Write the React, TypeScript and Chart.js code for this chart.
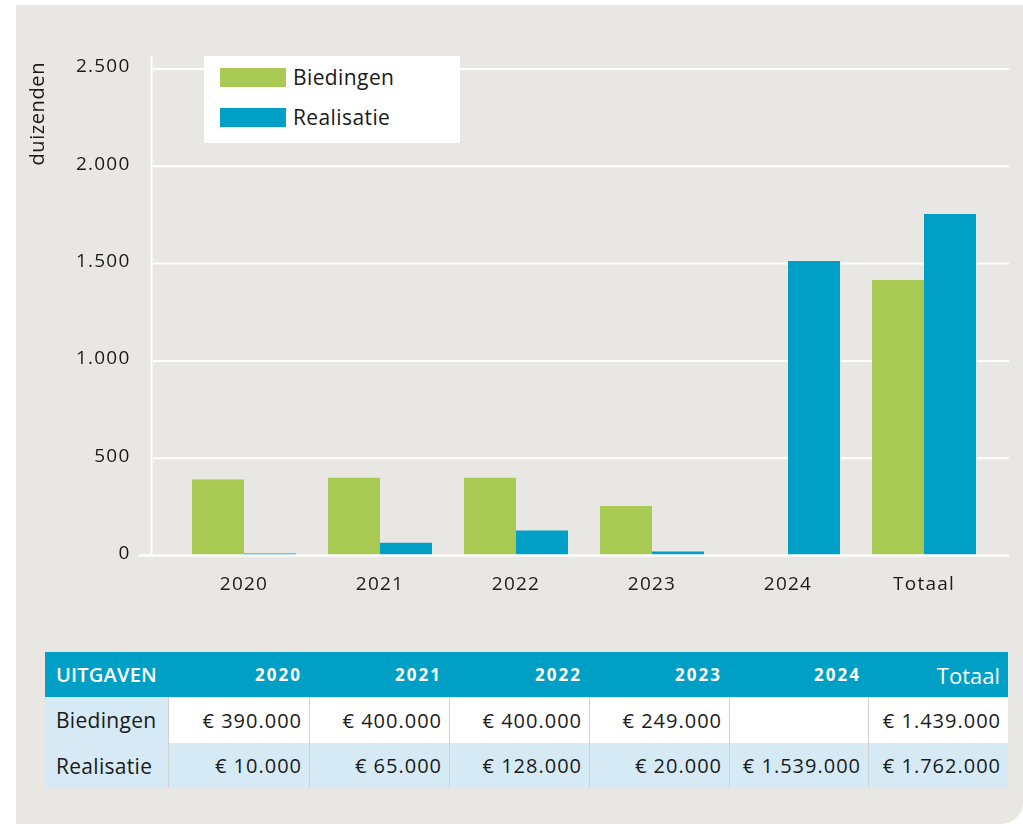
import React, { useEffect, useRef } from "react";
import { Chart, registerables } from "chart.js";

Chart.register(...registerables);

const categories = ["2020", "2021", "2022", "2023", "2024", "Totaal"];
const seriesNames = ["Biedingen", "Realisatie"];
const biedingenValues = [390, 400, 400, 255, null, 1416];
const realisatieValues = [10, 65, 128, 20, 1513, 1755];
const yTickValues = [0, 500, 1000, 1500, 2000, 2500];
const yAxisTitle = "duizenden";

const tableTitle = "UITGAVEN";
const tableBiedingen = ["€ 390.000", "€ 400.000", "€ 400.000", "€ 249.000", "", "€ 1.439.000"];
const tableRealisatie = ["€ 10.000", "€ 65.000", "€ 128.000", "€ 20.000", "€ 1.539.000", "€ 1.762.000"];

const GREEN = "#a8c952";
const BLUE = "#009fc6";
const PANEL = "#e8e7e3";
const TEXT = "#1a1a1a";
const LIGHTBLUE = "#d5eaf5";
const FONT = "'Open Sans', 'DejaVu Sans', sans-serif";

function fmt(v: number): string {
  return String(v).replace(/\B(?=(\d{3})+(?!\d))/g, ".");
}

const gridPlugin = {
  id: "customGrid",
  beforeUpdate(chart: any) {
    chart.ctx.letterSpacing = "1.2px";
  },
  beforeDraw(chart: any) {
    chart.ctx.letterSpacing = "1.2px";
  },
  beforeDatasetsDraw(chart: any) {
    const { ctx, chartArea, scales } = chart;
    const y = scales.y;
    ctx.save();
    ctx.strokeStyle = "#ffffff";
    ctx.lineWidth = 2;
    ctx.beginPath();
    ctx.moveTo(chartArea.left - 24.5, chartArea.top - 13);
    ctx.lineTo(chartArea.left - 24.5, chartArea.bottom);
    ctx.stroke();
    yTickValues.forEach((v) => {
      if (v === 0) return;
      const py = y.getPixelForValue(v);
      ctx.beginPath();
      ctx.moveTo(chartArea.left - 23, py);
      ctx.lineTo(chartArea.right + 17, py);
      ctx.stroke();
    });
    ctx.restore();
  },
  afterDatasetsDraw(chart: any) {
    const { ctx, chartArea, scales } = chart;
    const y = scales.y;
    ctx.save();
    ctx.strokeStyle = "#ffffff";
    ctx.lineWidth = 2.4;
    const py = y.getPixelForValue(0);
    ctx.beginPath();
    ctx.moveTo(chartArea.left - 37, py);
    ctx.lineTo(chartArea.right + 17, py);
    ctx.stroke();
    ctx.restore();
  },
  afterDraw(chart: any) {
    const { ctx, chartArea } = chart;
    ctx.save();
    ctx.letterSpacing = "0.6px";
    ctx.font = `20px ${FONT}`;
    ctx.fillStyle = TEXT;
    ctx.translate(38, chartArea.top - 7);
    ctx.rotate(-Math.PI / 2);
    ctx.textAlign = "right";
    ctx.textBaseline = "middle";
    ctx.fillText(yAxisTitle, 0, 0);
    ctx.restore();
  },
};

function BarChart() {
  const ref = useRef<HTMLCanvasElement | null>(null);
  useEffect(() => {
    if (!ref.current) return;
    const chart = new Chart(ref.current, {
      type: "bar",
      data: {
        labels: categories,
        datasets: [
          {
            label: seriesNames[0],
            data: biedingenValues as any,
            backgroundColor: GREEN,
            borderWidth: 0,
            categoryPercentage: 0.765,
            barPercentage: 1,
          },
          {
            label: seriesNames[1],
            data: realisatieValues,
            backgroundColor: BLUE,
            borderWidth: 0,
            categoryPercentage: 0.765,
            barPercentage: 1,
          },
        ],
      },
      options: {
        animation: false,
        responsive: false,
        maintainAspectRatio: false,
        layout: { padding: { top: 69, right: 31, left: 0, bottom: 0 } },
        plugins: { legend: { display: false }, tooltip: { enabled: false } },
        scales: {
          x: {
            grid: { display: false, drawTicks: false },
            border: { display: false },
            ticks: { padding: 18, color: TEXT, font: { family: FONT, size: 19 } },
            afterFit: (s: any) => {
              s.height = 64.5;
            },
          },
          y: {
            min: 0,
            max: 2500,
            afterBuildTicks: (s: any) => {
              s.ticks = yTickValues.map((v) => ({ value: v }));
            },
            grid: { display: false, drawTicks: false },
            border: { display: false },
            ticks: {
              padding: 45.5,
              labelOffset: -2,
              color: TEXT,
              font: { family: FONT, size: 19 },
              callback: (v: any) => fmt(Number(v)),
            },
            afterFit: (s: any) => {
              s.width = 176;
            },
          },
        },
      },
      plugins: [gridPlugin],
    } as any);
    return () => chart.destroy();
  }, []);
  return (
    <canvas
      ref={ref}
      width={1023}
      height={620}
      style={{ position: "absolute", left: 0, top: 0, width: 1023, height: 620 }}
    />
  );
}

function Legend() {
  const colors = [GREEN, BLUE];
  return (
    <div
      style={{
        position: "absolute",
        left: 204,
        top: 56,
        width: 256,
        height: 87,
        background: "#ffffff",
      }}
    >
      {seriesNames.map((name, i) => (
        <div
          key={name}
          style={{
            position: "absolute",
            left: 16,
            top: 12 + i * 40,
            height: 19,
            display: "flex",
            alignItems: "center",
          }}
        >
          <div style={{ width: 66, height: 19, background: colors[i] }} />
          <span
            style={{
              marginLeft: 7,
              fontFamily: FONT,
              fontSize: 21,
              color: TEXT,
              letterSpacing: "0.4px",
              lineHeight: "19px",
              whiteSpace: "nowrap",
            }}
          >
            {name}
          </span>
        </div>
      ))}
    </div>
  );
}

const colWidths = [123, 141, 140, 140, 140, 139, 140];

function DataTable() {
  const rows = [
    { label: seriesNames[0], values: tableBiedingen, bg: "#ffffff" },
    { label: seriesNames[1], values: tableRealisatie, bg: LIGHTBLUE },
  ];
  return (
    <div style={{ position: "absolute", left: 45, top: 652, width: 963, fontFamily: FONT }}>
      <div style={{ display: "flex", height: 45, background: BLUE, color: "#ffffff" }}>
        <div
          style={{
            width: colWidths[0],
            boxSizing: "border-box",
            paddingLeft: 11,
            display: "flex",
            alignItems: "center",
            fontSize: 20,
            fontWeight: 600,
            letterSpacing: "0.2px",
          }}
        >
          {tableTitle}
        </div>
        {categories.map((c, i) => {
          const isTotal = i === categories.length - 1;
          return (
            <div
              key={c}
              style={{
                width: colWidths[i + 1],
                boxSizing: "border-box",
                paddingRight: isTotal ? 8 : 7,
                display: "flex",
                alignItems: "center",
                justifyContent: "flex-end",
                fontSize: isTotal ? 22 : 17,
                fontWeight: isTotal ? 400 : 700,
                letterSpacing: isTotal ? "0px" : "2px",
              }}
            >
              {c}
            </div>
          );
        })}
      </div>
      {rows.map((r, ri) => (
        <div key={r.label} style={{ display: "flex", height: ri === 0 ? 46 : 45 }}>
          <div
            style={{
              width: colWidths[0],
              boxSizing: "border-box",
              paddingLeft: 11,
              display: "flex",
              alignItems: "center",
              background: LIGHTBLUE,
              color: TEXT,
              fontSize: 21,
              letterSpacing: "0.3px",
            }}
          >
            {r.label}
          </div>
          {r.values.map((v, i) => (
            <div
              key={i}
              style={{
                width: colWidths[i + 1],
                boxSizing: "border-box",
                borderLeft: "1.5px solid #d2d2d0",
                paddingRight: 7,
                display: "flex",
                alignItems: "center",
                justifyContent: "flex-end",
                background: r.bg,
                color: TEXT,
                fontSize: 20,
                letterSpacing: "1px",
                whiteSpace: "nowrap",
              }}
            >
              {v}
            </div>
          ))}
        </div>
      ))}
    </div>
  );
}

export default function App() {
  return (
    <div
      style={{
        position: "absolute",
        left: 0,
        top: 0,
        width: 1023,
        height: 824,
        background: "#ffffff",
        overflow: "hidden",
      }}
    >
      <div
        style={{
          position: "absolute",
          left: 16,
          top: 5,
          width: 1007,
          height: 819,
          background: PANEL,
          borderBottomRightRadius: 22,
        }}
      />
      <BarChart />
      <Legend />
      <DataTable />
    </div>
  );
}
